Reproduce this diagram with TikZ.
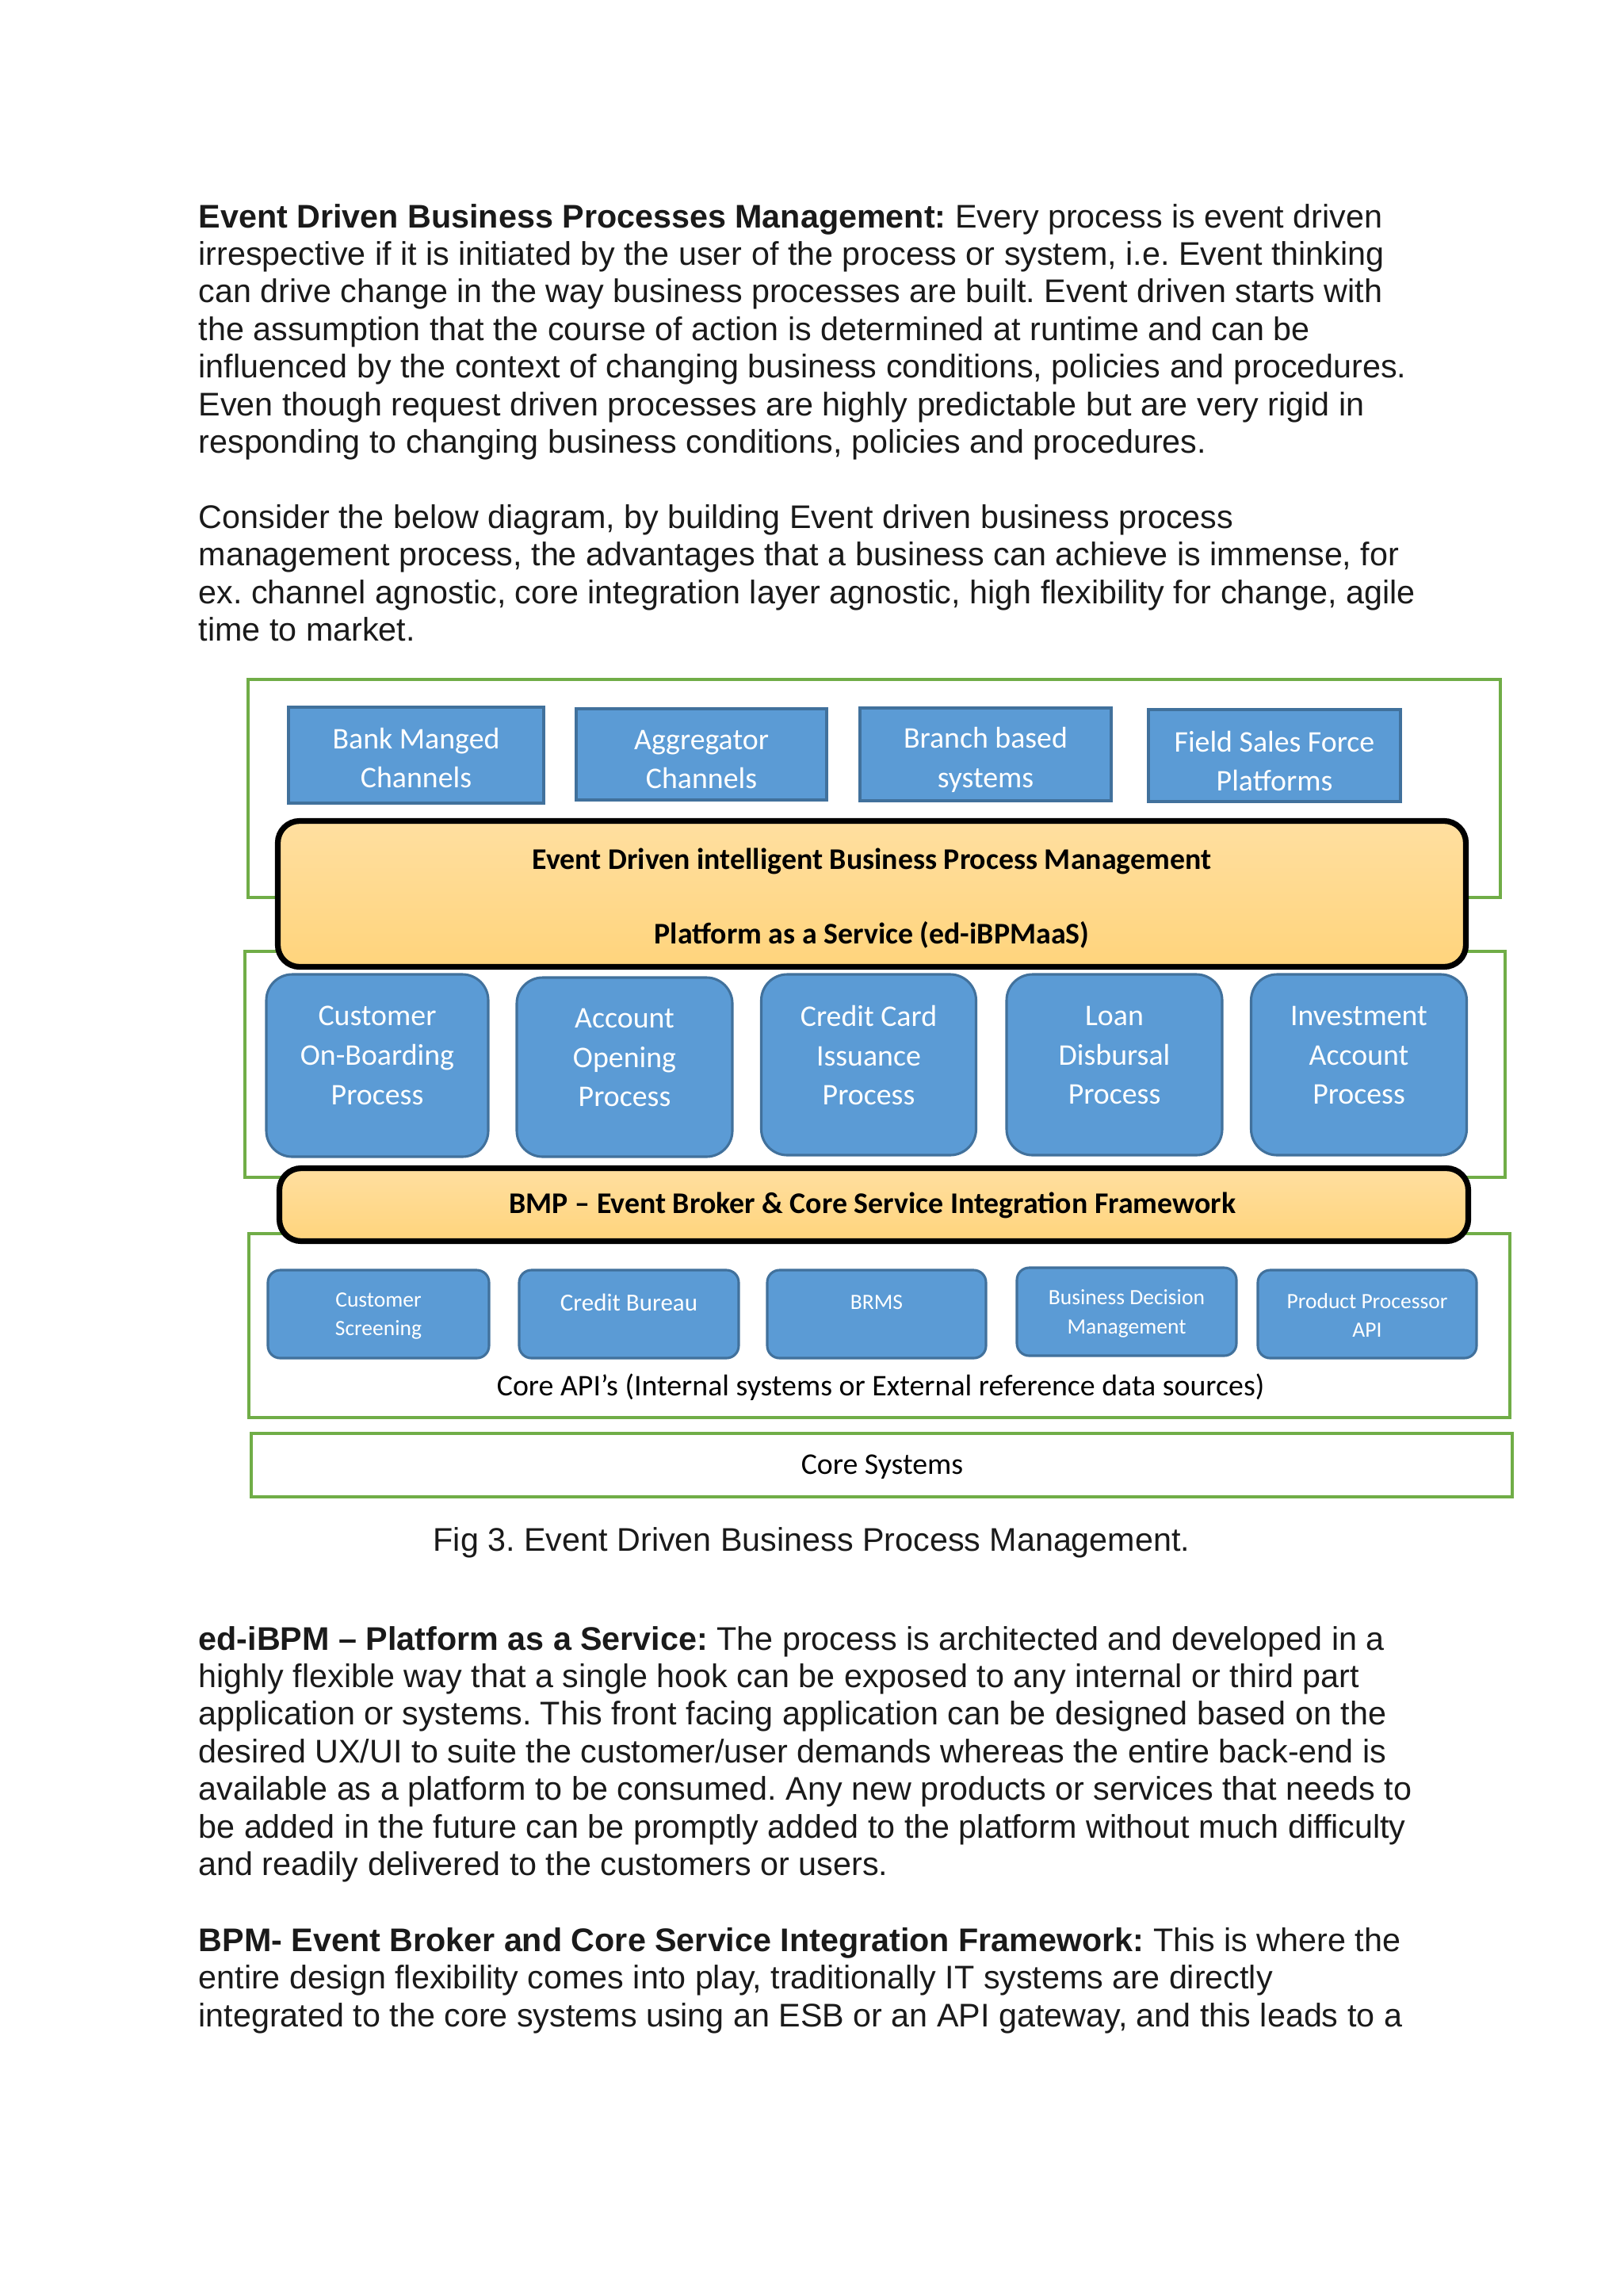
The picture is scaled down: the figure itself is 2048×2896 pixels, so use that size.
\documentclass[tikz,border=0pt]{standalone}
\usepackage{fontspec}
\setmainfont{Liberation Sans}
\newfontfamily\calib{Carlito}
\frenchspacing
\definecolor{grn}{HTML}{70AD47}
\definecolor{bluefill}{HTML}{5B9BD5}
\definecolor{blueline}{HTML}{41719C}
\definecolor{goldtop}{HTML}{FFDFA0}
\definecolor{goldbot}{HTML}{FFD47C}
\definecolor{bodytext}{HTML}{1A1A1A}
\newcommand\bx[6]{\node[#2, minimum width={(#5-#3)*0.29066pt}, minimum height={(#6-#4)*0.29066pt}] (#1) at ({(#3+#5)/2},{(#4+#6)/2}) {};}
\tikzset{
  grnbox/.style={draw=grn, line width=1pt, inner sep=0pt},
  bluebox/.style={draw=blueline, fill=bluefill, line width=0.9pt, inner sep=0pt},
  procbox/.style={bluebox, rounded corners=9.5pt},
  apibox/.style={bluebox, rounded corners=4.5pt},
  goldbox/.style={draw=black, line width=2.1pt, rounded corners=8pt, top color=goldtop, bottom color=goldbot, inner sep=0pt},
  ptext/.style={anchor=base west, inner sep=0pt, text=bodytext, font=\fontsize{12}{13.8}\selectfont},
  wtext/.style={text=white, align=center, inner sep=0pt, font=\calib\fontsize{11}{14.5}\selectfont},
  stext/.style={text=white, align=center, inner sep=0pt, font=\calib\fontsize{8}{10.7}\selectfont},
  mtext/.style={text=white, align=center, inner sep=0pt, font=\calib\fontsize{9}{11}\selectfont},
  btext/.style={inner sep=0pt, font=\calib\bfseries\fontsize{11}{13.4}\selectfont},
  ctext/.style={inner sep=0pt, font=\calib\fontsize{11}{13.4}\selectfont},
}
\begin{document}
\begin{tikzpicture}[x=0.29066pt, y=-0.29066pt]
\fill[white] (0,0) rectangle (2048,2896);
\useasboundingbox (0,0) rectangle (2048,2896);

% paragraph 1
\node[ptext] (p1a) at (250,287.0) {\textbf{Event Driven Business Processes Management:} Every process is event driven};
\node[ptext] (p1b) at (250,334.4) {irrespective if it is initiated by the user of the process or system, i.e. Event thinking};
\node[ptext] (p1c) at (250,381.8) {can drive change in the way business processes are built. Event driven starts with};
\node[ptext] (p1d) at (250,429.2) {the assumption that the course of action is determined at runtime and can be};
\node[ptext] (p1e) at (250,476.6) {influenced by the context of changing business conditions, policies and procedures.};
\node[ptext] (p1f) at (250,524.0) {Even though request driven processes are highly predictable but are very rigid in};
\node[ptext] (p1g) at (250,571.4) {responding to changing business conditions, policies and procedures.};

% paragraph 2
\node[ptext] (p2a) at (250,666.2) {Consider the below diagram, by building Event driven business process};
\node[ptext] (p2b) at (250,713.6) {management process, the advantages that a business can achieve is immense, for};
\node[ptext] (p2c) at (250,761.0) {ex. channel agnostic, core integration layer agnostic, high flexibility for change, agile};
\node[ptext] (p2d) at (250,808.4) {time to market.};

% green frames
\bx{g1}{grnbox}{313}{857}{1893}{1132}
\bx{g2}{grnbox}{309}{1200}{1899}{1485}
\bx{g3}{grnbox}{314}{1556}{1905}{1788}
\bx{g4}{grnbox}{317}{1808}{1908}{1888}

% channel boxes
\bx{ch1}{bluebox}{364}{892}{686}{1013}
\bx{ch2}{bluebox}{727}{894}{1043}{1009}
\bx{ch3}{bluebox}{1085}{893}{1402}{1010}
\bx{ch4}{bluebox}{1449}{895}{1767}{1011}
\node[wtext] (ch1t) at (525,956) {Bank Manged\\Channels};
\node[wtext] (ch2t) at (885,958) {Aggregator\\Channels};
\node[wtext] (ch3t) at (1243.5,958) {Branch based\\systems};
\node[wtext] (ch4t) at (1608,960) {Field Sales Force\\Platforms};

% ed-iBPM platform
\bx{pf}{goldbox}{350.5}{1035.5}{1849.5}{1219.5}
\node[btext] (pft1) at (1100,1086) {Event Driven intelligent Business Process Management};
\node[btext] (pft2) at (1100,1179) {Platform as a Service (ed-iBPMaaS)};

% process boxes
\bx{pr1}{procbox}{336}{1229}{616}{1459}
\bx{pr2}{procbox}{652}{1233}{924}{1459}
\bx{pr3}{procbox}{960.5}{1229}{1231.5}{1457}
\bx{pr4}{procbox}{1270}{1229}{1542}{1457}
\bx{pr5}{procbox}{1578.5}{1229}{1850.5}{1457}
\node[wtext] (pr1t) at (476,1331) {Customer\\On-Boarding\\Process};
\node[wtext] (pr2t) at (788,1334) {Account\\Opening\\Process};
\node[wtext] (pr3t) at (1096,1331) {Credit Card\\Issuance\\Process};
\node[wtext] (pr4t) at (1406,1331) {Loan\\Disbursal\\Process};
\node[wtext] (pr5t) at (1714.5,1331) {Investment\\Account\\Process};

% event broker
\bx{eb}{goldbox}{352.5}{1473.5}{1852.5}{1565.5}
\node[btext] (ebt) at (1101,1520) {BMP – Event Broker \& Core Service Integration Framework};

% core APIs
\bx{ap1}{apibox}{338}{1602}{617}{1713}
\bx{ap2}{apibox}{655}{1602}{932}{1713}
\bx{ap3}{apibox}{968}{1602}{1244}{1713}
\bx{ap4}{apibox}{1283}{1599}{1560}{1710}
\bx{ap5}{apibox}{1587}{1602}{1863}{1713}
\node[stext] (ap1t) at (477.5,1660) {Customer\\Screening};
\node[mtext] (ap2t) at (793.5,1643) {Credit Bureau};
\node[stext] (ap3t) at (1106,1643) {BRMS};
\node[stext] (ap4t) at (1421.5,1657) {Business Decision\\Management};
\node[stext] (ap5t) at (1725,1659) {Product Processor\\API};
\node[ctext] (apit) at (1111,1750) {Core API’s (Internal systems or External reference data sources)};

% core systems
\node[ctext] (cst) at (1113,1850) {Core Systems};

% caption
\node[ptext, anchor=base] (cap) at (1024,1956) {Fig 3. Event Driven Business Process Management.};

% paragraph 3
\node[ptext] (p3a) at (250,2081.0) {\textbf{ed-iBPM – Platform as a Service:} The process is architected and developed in a};
\node[ptext] (p3b) at (250,2128.4) {highly flexible way that a single hook can be exposed to any internal or third part};
\node[ptext] (p3c) at (250,2175.8) {application or systems. This front facing application can be designed based on the};
\node[ptext] (p3d) at (250,2223.2) {desired UX/UI to suite the customer/user demands whereas the entire back-end is};
\node[ptext] (p3e) at (250,2270.6) {available as a platform to be consumed. Any new products or services that needs to};
\node[ptext] (p3f) at (250,2318.0) {be added in the future can be promptly added to the platform without much difficulty};
\node[ptext] (p3g) at (250,2365.4) {and readily delivered to the customers or users.};

% paragraph 4
\node[ptext] (p4a) at (250,2461.2) {\textbf{BPM- Event Broker and Core Service Integration Framework:} This is where the};
\node[ptext] (p4b) at (250,2508.6) {entire design flexibility comes into play, traditionally IT systems are directly};
\node[ptext] (p4c) at (250,2556.0) {integrated to the core systems using an ESB or an API gateway, and this leads to a};
\end{tikzpicture}
\end{document}
